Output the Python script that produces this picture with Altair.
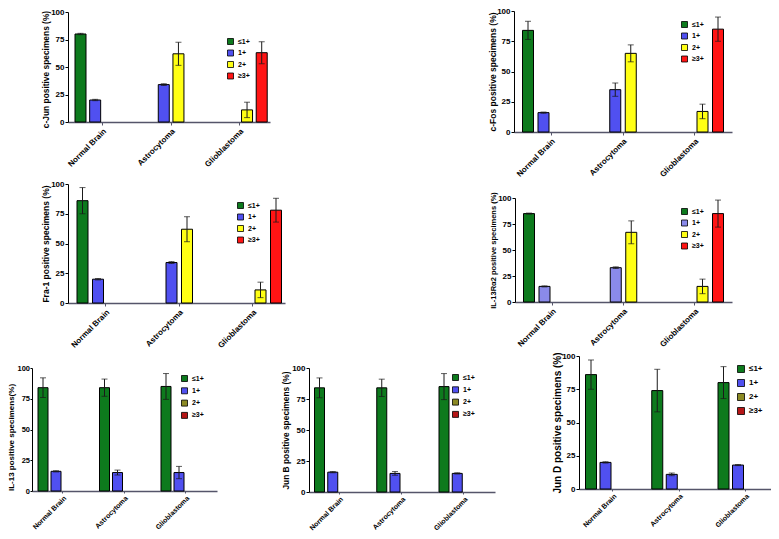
import altair as alt
import pandas as pd

CATEGORIES = ["Normal Brain", "Astrocytoma", "Glioblastoma"]
SERIES = ["≤1+", "1+", "2+", "≥3+"]

# ---- data (percent of positive specimens, per series across categories) ----
cjun_le1 = [80, 0, 0]
cjun_1 = [20, 34, 0]
cjun_2 = [0, 62, 11]
cjun_ge3 = [0, 0, 63]
cjun_err = [[0.6, 0, 0], [0.6, 0.8, 0], [0, 10.5, 7], [0, 0, 10]]

cfos_le1 = [84, 0, 0]
cfos_1 = [16, 35, 0]
cfos_2 = [0, 65, 17]
cfos_ge3 = [0, 0, 85]
cfos_err = [[7.5, 0, 0], [0.5, 5.5, 0], [0, 7, 6], [0, 0, 10]]

fra1_le1 = [86, 0, 0]
fra1_1 = [20, 34, 0]
fra1_2 = [0, 62, 11]
fra1_ge3 = [0, 0, 78]
fra1_err = [[11, 0, 0], [0.6, 0.8, 0], [0, 10.5, 6.5], [0, 0, 10]]

il13ra2_le1 = [85, 0, 0]
il13ra2_1 = [15, 33, 0]
il13ra2_2 = [0, 67, 15]
il13ra2_ge3 = [0, 0, 85]
il13ra2_err = [[0.5, 0, 0], [0.5, 0.8, 0], [0, 11, 7], [0, 0, 13]]

il13_le1 = [84, 84, 85]
il13_1 = [16, 15, 15]
il13_2 = [0, 0, 0]
il13_ge3 = [0, 0, 0]
il13_err = [[8, 7, 10.5], [0.5, 2, 5], [0, 0, 0], [0, 0, 0]]

junb_le1 = [84, 84, 85]
junb_1 = [16, 15, 15]
junb_2 = [0, 0, 0]
junb_ge3 = [0, 0, 0]
junb_err = [[8, 7, 10.5], [0.5, 1.5, 0.5], [0, 0, 0], [0, 0, 0]]

jund_le1 = [86, 74, 80]
jund_1 = [20, 11, 18]
jund_2 = [0, 0, 0]
jund_ge3 = [0, 0, 0]
jund_err = [[11, 16, 12], [0.5, 1, 0.4], [0, 0, 0], [0, 0, 0]]

TOP_COLORS = ["#0d7a1d", "#5050f0", "#ffff14", "#ff1414"]
RA2_COLORS = ["#0d7a1d", "#8a8aea", "#ffff14", "#ff1414"]
BOTTOM_COLORS = ["#0d7a1d", "#5050f0", "#8c8a24", "#b51616"]

FONT = "Liberation Sans"
W, H = 763, 523
OX, OY = 8, 8

# ---- layout (page pixels) ----
BASE = dict(ss=36, lfs=7, rp=0.5, xfs=8, ylfs=8, ytick=3, ylp=1, tx=None, ty=None)
LAYOUT = {
    "cjun": dict(BASE, x0=68, x1=270, c0=80.5, step=68.6, sw=14.67, bw=11, y0=122, y100=12,
                 lx=227, ly=38, tfs=8.4, tx=50, ty=69),
    "cfos": dict(BASE, x0=514, x1=732, c0=528, step=71.75, sw=15.5, bw=11, y0=132, y100=11,
                 lx=681, ly=21, tfs=8.5, tx=497),
    "fra1": dict(BASE, x0=68, x1=285, c0=82.5, step=73.5, sw=15.5, bw=11, y0=303, y100=184,
                 lx=237, ly=202, tfs=8.5, tx=50),
    "il13ra2": dict(BASE, x0=515, x1=732, c0=529, step=71.25, sw=15.5, bw=11, y0=302, y100=198,
                    lx=681, ly=208, tfs=7.5, tx=497),
    "il13": dict(BASE, x0=32, x1=217, c0=43, step=61.5, sw=13, bw=10, y0=491, y100=368,
                 lx=181, ly=375, tfs=8, ty=437, rp=1.3, xfs=7, ylfs=7.5, ytick=2, ylp=0.5),
    "junb": dict(BASE, x0=309, x1=495, c0=319.5, step=62.25, sw=13.25, bw=10, y0=492, y100=368,
                 lx=452, ly=374, tfs=8.4, rp=1.3, xfs=7),
    "jund": dict(BASE, x0=579, x1=777, c0=591, step=66.25, sw=14.5, bw=11, y0=489, y100=356,
                 lx=737, ly=365, tfs=10, tx=562, ss=49, lfs=8, rp=2, xfs=7),
}


def panel(title, vals, errs, colors, lay):
    rows = []
    for i, s in enumerate(SERIES):
        for j, c in enumerate(CATEGORIES):
            v = vals[i][j]
            e = errs[i][j]
            if v > 0:
                rows.append(dict(cat=c, series=s, value=v, lo=v - e, hi=v + e, err=e))
    df = pd.DataFrame(rows)

    x0, x1, c0, step, sw = lay["x0"], lay["x1"], lay["c0"], lay["step"], lay["sw"]
    B = 4 * sw
    pi = 1 - B / step
    s0 = c0 - sw / 2
    left = s0 - x0
    right = x1 - (s0 + 2 * step + B)
    O = left + right
    po = O / (2 * step)
    al = left / O
    pi2 = 1 - lay["bw"] / sw

    xs = alt.Scale(domain=CATEGORIES, range=[x0 - OX, x1 - OX], paddingInner=pi,
                   paddingOuter=po, align=al, round=False)
    xos = alt.Scale(domain=SERIES, paddingInner=pi2, paddingOuter=pi2 / 2, round=False)
    ys = alt.Scale(domain=[0, 100], range=[lay["y0"] - OY, lay["y100"] - OY], nice=False, zero=True)

    small = lay["xfs"] < 8
    x_axis = alt.Axis(orient="bottom", offset=(lay["y0"] - OY) - H, labelAngle=-45,
                      labelAlign="right", labelBaseline="top", labelFont=FONT,
                      labelFontWeight="bold", labelFontSize=lay["xfs"], labelColor="black",
                      tickSize=2 if small else 3, tickColor="#55556a", domainColor="#55556a",
                      domainWidth=1.5, labelPadding=1 if small else 2, title=None, grid=False,
                      labelOverlap=False, labelBound=False)
    yargs = dict(orient="left", offset=-(x0 - OX), values=[0, 25, 50, 75, 100],
                 tickSize=lay["ytick"], tickColor="black", domainColor="black", domainWidth=1,
                 labelFont=FONT, labelFontWeight="bold", labelFontSize=lay["ylfs"],
                 labelColor="black", labelPadding=lay["ylp"], title=title, titleFont=FONT,
                 titleFontWeight="bold", titleFontSize=lay["tfs"], titleColor="black",
                 titleBaseline="bottom", titlePadding=1, grid=False,
                 labelOverlap=False, labelBound=False)
    if lay["tx"] is not None:
        yargs["titleX"] = lay["tx"] - x0
    if lay["ty"] is not None:
        yargs["titleY"] = lay["ty"] - OY
    y_axis = alt.Axis(**yargs)
    legend = alt.Legend(orient="none", legendX=lay["lx"] - OX, legendY=lay["ly"] - OY,
                        title=None, symbolType="square", symbolSize=lay["ss"],
                        symbolStrokeColor="black", symbolStrokeWidth=0.8,
                        symbolOpacity=1, labelFont=FONT, labelFontWeight="bold",
                        labelFontSize=lay["lfs"], labelColor="black",
                        rowPadding=lay["rp"], padding=0, labelOffset=4)

    xenc = alt.X("cat:N", scale=xs, axis=x_axis, sort=CATEGORIES)
    xoenc = alt.XOffset("series:N", scale=xos, sort=SERIES)

    bars = alt.Chart(df).mark_bar(stroke="black", strokeWidth=1, opacity=1).encode(
        x=xenc, xOffset=xoenc,
        y=alt.Y("value:Q", scale=ys, axis=y_axis),
        color=alt.Color("series:N", scale=alt.Scale(domain=SERIES, range=colors), legend=legend),
    )
    edf = df[df.err > 0]
    rule = alt.Chart(edf).mark_rule(color="#1a1a1a", strokeWidth=1).encode(
        x=xenc, xOffset=xoenc, y=alt.Y("lo:Q", scale=ys, axis=y_axis), y2="hi:Q")
    cap_hi = alt.Chart(edf).mark_tick(color="#1a1a1a", thickness=1, size=6, orient="horizontal").encode(
        x=xenc, xOffset=xoenc, y=alt.Y("hi:Q", scale=ys, axis=y_axis))
    cap_lo = alt.Chart(edf).mark_tick(color="#1a1a1a", thickness=1, size=6, orient="horizontal").encode(
        x=xenc, xOffset=xoenc, y=alt.Y("lo:Q", scale=ys, axis=y_axis))
    return alt.layer(bars, rule, cap_hi, cap_lo)


panels = [
    panel("c-Jun positive specimens (%)", [cjun_le1, cjun_1, cjun_2, cjun_ge3], cjun_err,
          TOP_COLORS, LAYOUT["cjun"]),
    panel("c-Fos positive specimens (%)", [cfos_le1, cfos_1, cfos_2, cfos_ge3], cfos_err,
          TOP_COLORS, LAYOUT["cfos"]),
    panel("Fra-1 positive specimens (%)", [fra1_le1, fra1_1, fra1_2, fra1_ge3], fra1_err,
          TOP_COLORS, LAYOUT["fra1"]),
    panel("IL-13Rα2 positive specimens (%)", [il13ra2_le1, il13ra2_1, il13ra2_2, il13ra2_ge3],
          il13ra2_err, RA2_COLORS, LAYOUT["il13ra2"]),
    panel("IL-13 positive specimens(%)", [il13_le1, il13_1, il13_2, il13_ge3], il13_err,
          BOTTOM_COLORS, LAYOUT["il13"]),
    panel("Jun  B positive specimens (%)", [junb_le1, junb_1, junb_2, junb_ge3], junb_err,
          BOTTOM_COLORS, LAYOUT["junb"]),
    panel("Jun D positive specimens (%)", [jund_le1, jund_1, jund_2, jund_ge3], jund_err,
          BOTTOM_COLORS, LAYOUT["jund"]),
]

chart = alt.layer(*panels).resolve_scale(
    x="independent", y="independent", xOffset="independent", color="independent"
).resolve_axis(
    x="independent", y="independent"
).resolve_legend(
    color="independent"
).properties(
    width=W, height=H,
    autosize=alt.AutoSizeParams(type="none"),
    padding={"left": 0, "top": 0, "right": 0, "bottom": 0},
    background="white",
).configure(font=FONT).configure_view(stroke=None)

chart.save("out.html", embed_options={"renderer": "svg", "actions": False})
